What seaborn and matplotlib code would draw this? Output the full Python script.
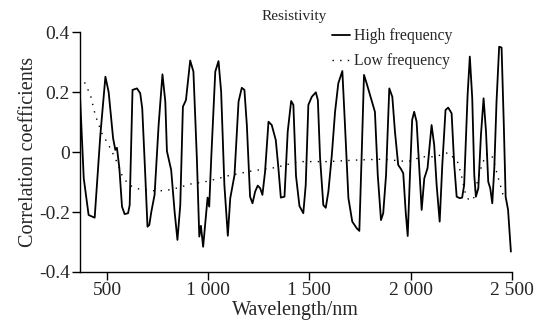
import numpy as np
import pandas as pd
import matplotlib
matplotlib.use("Agg")
import matplotlib.pyplot as plt
from matplotlib.ticker import FuncFormatter
import seaborn as sns

# High frequency correlation curve (wavelength nm, coefficient)
high_wl = [367, 385, 409, 439, 467, 492, 508, 530, 541, 549, 561, 574, 587, 604, 612,
           626, 648, 664, 674, 689, 700, 709, 719, 735, 755, 774, 788, 796, 817, 834,
           848, 862, 875, 890, 911, 927, 944, 956, 964, 975, 985, 997, 1005, 1015, 1035,
           1051, 1064, 1080, 1097, 1109, 1130, 1150, 1166, 1179, 1191, 1207, 1219, 1232,
           1245, 1257, 1268, 1281, 1298, 1314, 1334, 1347, 1359, 1377, 1393, 1410, 1421,
           1434, 1451, 1470, 1482, 1495, 1512, 1532, 1542, 1553, 1569, 1581, 1594, 1611,
           1627, 1643, 1663, 1676, 1693, 1712, 1734, 1747, 1759, 1770, 1783, 1800, 1824,
           1838, 1854, 1865, 1879, 1895, 1910, 1923, 1939, 1953, 1964, 1976, 1986, 1997,
           2008, 2018, 2030, 2042, 2055, 2068, 2084, 2104, 2117, 2129, 2144, 2157, 2173,
           2186, 2203, 2216, 2228, 2244, 2255, 2265, 2282, 2293, 2305, 2315, 2323, 2335,
           2348, 2361, 2373, 2384, 2394, 2404, 2414, 2425, 2438, 2450, 2461, 2470, 2482,
           2496]
high_r = [0.179, -0.088, -0.21, -0.219, 0.057, 0.251, 0.2, 0.046, 0.007, 0.014, -0.054,
          -0.182, -0.207, -0.204, -0.177, 0.207, 0.212, 0.196, 0.146, -0.077, -0.249,
          -0.243, -0.199, -0.143, 0.09, 0.259, 0.168, 0.003, -0.06, -0.199, -0.293,
          -0.177, 0.151, 0.173, 0.305, 0.268, -0.021, -0.282, -0.246, -0.316, -0.243,
          -0.152, -0.182, -0.021, 0.268, 0.303, 0.201, -0.11, -0.279, -0.154, -0.077,
          0.168, 0.214, 0.207, 0.09, -0.149, -0.171, -0.132, -0.112, -0.121, -0.143,
          -0.066, 0.101, 0.09, 0.04, -0.054, -0.152, -0.149, 0.068, 0.17, 0.157,
          -0.08, -0.18, -0.204, -0.11, 0.157, 0.184, 0.199, 0.173, -0.021, -0.177,
          -0.186, -0.132, -0.01, 0.134, 0.229, 0.27, 0.09, -0.154, -0.232, -0.254,
          -0.263, 0.001, 0.257, 0.229, 0.19, 0.134, -0.077, -0.227, -0.204, -0.077,
          0.212, 0.184, 0.068, -0.043, -0.057, -0.071, -0.199, -0.28, -0.08,
          0.107, 0.134, 0.101, -0.043, -0.193, -0.088, -0.054, 0.09, 0.023, -0.11,
          -0.232, -0.043, 0.14, 0.148, 0.129, -0.043, -0.149, -0.154, -0.152, -0.11,
          0.19, 0.318, 0.179, -0.077, -0.149, -0.121, 0.057, 0.179, 0.068, -0.099,
          -0.121, -0.171, -0.054, 0.168, 0.351, 0.348, 0.09, -0.149, -0.193, -0.332]

# Low frequency correlation curve
low_wl = [389, 418, 442, 475, 508, 541, 574, 607, 656, 722, 788, 853, 911, 1001, 1100,
          1216, 1331, 1446, 1594, 1726, 1857, 1989, 2055, 2120, 2186, 2232, 2249, 2269,
          2285, 2310, 2326, 2348, 2371, 2392, 2408, 2425, 2441, 2462]
low_r = [0.232, 0.19, 0.123, 0.062, 0.023, -0.021, -0.077, -0.11, -0.123, -0.129,
         -0.129, -0.119, -0.107, -0.097, -0.079, -0.063, -0.052, -0.032, -0.032, -0.027,
         -0.024, -0.032, -0.016, -0.016, -0.002, -0.032, -0.071, -0.132, -0.157, -0.16,
         -0.11, -0.054, -0.01, -0.004, -0.021, -0.066, -0.104, -0.154]

x_ticks = [500, 1000, 1500, 2000, 2500]
y_ticks = [-0.4, -0.2, 0, 0.2, 0.4]

sns.set_style("ticks")
plt.rcParams['font.family'] = ['Liberation Serif', 'DejaVu Serif']
plt.rcParams['axes.unicode_minus'] = False

fig = plt.figure(figsize=(5.52, 3.24), dpi=100)
ax = fig.add_axes([0.1444, 0.1605, 0.7826, 0.7407])

df_high = pd.DataFrame({'wl': high_wl, 'r': high_r})
df_low = pd.DataFrame({'wl': low_wl, 'r': low_r})

sns.lineplot(data=df_high, x='wl', y='r', ax=ax, color='black', linewidth=1.3,
             label='High frequency')
sns.lineplot(data=df_low, x='wl', y='r', ax=ax, color='black', linewidth=1.0,
             linestyle=(0, (1, 4.5)), label='Low frequency')
for ln in ax.get_lines():
    ln.set_solid_joinstyle('round')

ax.set_xlim(365, 2500)
ax.set_ylim(-0.4, 0.4)
ax.set_xticks(x_ticks)
ax.set_yticks(y_ticks)
ax.xaxis.set_major_formatter(FuncFormatter(lambda v, p: f"{int(v):,}".replace(',', ' ')))
ax.yaxis.set_major_formatter(FuncFormatter(lambda v, p: "0" if abs(v) < 1e-9 else f"{v:.1f}"))
ax.tick_params(labelsize=14, length=5.5, width=1, color='black', pad=1.5)
sns.despine(ax=ax)
for s in ['left', 'bottom']:
    ax.spines[s].set_color('black')
    ax.spines[s].set_linewidth(1.0)

ax.set_xlabel('Wavelength/nm', fontsize=14.5, labelpad=2)
ax.set_ylabel('Correlation coefficients', fontsize=14.5, labelpad=1)

ax.legend(loc='upper left', bbox_to_anchor=(0.585, 1.015), frameon=False, fontsize=11.3,
          handlelength=1.1, handletextpad=0.3, labelspacing=0.55, borderpad=0,
          borderaxespad=0)

fig.text(0.533, 0.948, 'Resistivity', fontsize=11, ha='center', va='center')

fig.savefig('out.png', dpi=100, facecolor='white')
